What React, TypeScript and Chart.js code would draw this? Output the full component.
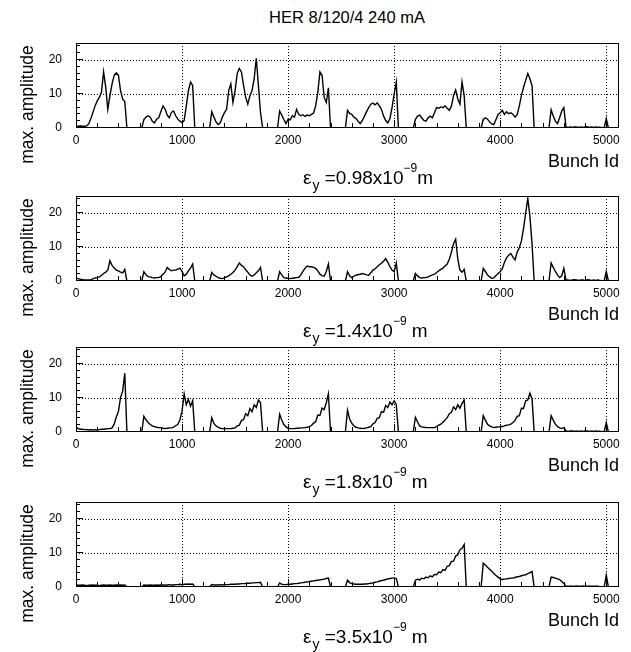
import React, { useEffect, useRef } from "react";
import { Chart, registerables } from "chart.js";

Chart.register(...registerables);

const FONT = '"Liberation Sans", Arial, Helvetica, sans-serif';

// ---------------- data ----------------
const bunchIds = Array.from({ length: 257 }, (_, i) => i * 20); // 0 .. 5120, step 20

const xTickValues = [0, 1000, 2000, 3000, 4000, 5000];
const xMinorTicks = [0, 200, 400, 600, 800, 1000, 1200, 1400, 1600, 1800, 2000, 2200, 2400, 2600, 2800, 3000, 3200, 3400, 3600, 3800, 4000, 4200, 4400, 4600, 4800, 5000];
const yTickValues = [0, 10, 20];
const yMinorTicks = [0, 2, 4, 6, 8, 10, 12, 14, 16, 18, 20, 22, 24];

const plotTitle = "HER 8/120/4 240 mA";
const xTitle = "Bunch Id";
const yTitle = "max. amplitude";
const emittances = ["0.98", "1.4", "1.8", "3.5"];
const unitGap = ["", " ", " ", " "];

// eps_y = 0.98e-9 m
const amp098 = [
  0.6, 0.5, 0.6, 0.5, 0.5, 0.6, 1.2, 2.8, 4.6, 6.5, 8.0, 9.0, 10.5, 16.5, 12.0, 5.5, 9.5, 13.0, 15.5, 16.2, 15.5, 11.0, 8.5, 7.8,
  0, 0, 0, 0, 0, 0, 0, 0,
  2.5, 3.2, 3.6, 3.2, 2.0, 1.5, 2.6, 3.0, 4.8, 6.5, 5.6, 3.8, 3.0, 4.6, 5.0, 3.6, 2.6, 2.0, 1.6, 2.2, 6.5, 11.0, 13.5, 12.5,
  0, 0, 0, 0, 0, 0, 0, 0,
  4.8, 3.2, 1.8, 1.0, 1.5, 3.2, 4.5, 5.5, 11.0, 13.0, 7.5, 11.0, 16.0, 17.5, 16.5, 12.5, 9.0, 7.0, 9.5, 11.0, 14.5, 20.5, 12.5, 4.5,
  0, 0, 0, 0, 0, 0, 0, 0,
  5.0, 3.8, 2.5, 1.3, 2.6, 2.4, 3.6, 3.2, 5.5, 4.0, 3.6, 3.9, 3.4, 3.8, 3.6, 4.0, 4.4, 6.5, 10.5, 16.5, 15.5, 9.0, 7.5, 11.8,
  0, 0, 0, 0, 0, 0, 0, 0,
  5.2, 4.3, 4.0, 3.2, 2.8, 2.0, 1.3, 2.2, 3.5, 4.8, 6.0, 7.0, 7.3, 6.8, 7.4, 6.5, 5.5, 3.5, 2.2, 1.5, 2.8, 6.0, 10.0, 13.5,
  0, 0, 0, 0, 0, 0, 0, 0,
  2.5, 3.5, 3.8, 3.0, 2.2, 2.0, 3.0, 3.5, 3.0, 4.5, 6.0, 5.8, 6.2, 6.0, 6.5, 5.8, 5.2, 6.5, 9.5, 11.2, 8.5, 7.0, 13.5, 9.5,
  0, 0, 0, 0, 0, 0, 0, 0,
  2.5, 3.0, 2.6, 1.8, 1.2, 1.0, 2.5, 4.0, 4.5, 5.2, 4.0, 4.8, 4.2, 4.5, 4.0, 3.2, 4.0, 6.5, 9.5, 12.0, 14.0, 16.0, 14.5, 12.5,
  0, 0, 0, 0, 0, 0, 0, 0,
  5.4, 3.5, 2.0, 1.3, 3.0, 5.0, 6.0,
  0.3, 0.2, 0.3, 0.2, 0.3, 0.3, 0.2, 0.3, 0.2, 0.3, 0.4, 0.2, 0.3, 0.2, 0.3, 0.2, 0.2, 0.1, 0,
  2.8,
  0, 0, 0, 0, 0, 0,
];

// eps_y = 1.4e-9 m
const amp14 = [
  0.8, 0.7, 0.5, 0.4, 0.3, 0.3, 0.3, 0.4, 0.6, 0.9, 1.0, 1.2, 1.6, 2.2, 2.6, 3.2, 6.0, 4.6, 3.8, 3.2, 3.0, 2.6, 2.4, 3.4,
  0, 0, 0, 0, 0, 0, 0, 0,
  2.7, 1.8, 1.3, 1.2, 1.0, 0.9, 1.0, 1.0, 1.3, 2.0, 2.6, 4.0, 3.4, 3.0, 3.2, 3.2, 3.5, 3.8, 2.8, 1.5, 2.0, 3.0, 3.8, 5.0,
  0, 0, 0, 0, 0, 0, 0, 0,
  2.5, 1.8, 1.4, 1.0, 0.8, 0.7, 0.9, 1.2, 1.5, 2.0, 2.5, 3.2, 4.2, 5.3, 4.6, 4.2, 3.3, 2.6, 1.8, 1.4, 1.8, 2.4, 3.0, 4.0,
  0, 0, 0, 0, 0, 0, 0, 0,
  2.7, 1.8, 1.0, 0.9, 0.8, 0.7, 0.8, 0.9, 1.0, 1.1, 1.8, 2.8, 3.8, 4.4, 4.2, 4.2, 4.0, 3.7, 3.0, 2.0, 1.6, 1.4, 2.8, 5.0,
  0, 0, 0, 0, 0, 0, 0, 0,
  2.7, 1.5, 1.0, 1.4, 1.7, 1.9, 2.0, 2.2, 2.0, 1.8, 1.7, 2.4, 3.2, 3.6, 4.2, 4.8, 5.2, 5.8, 6.6, 5.5, 4.2, 3.2, 2.7, 5.3,
  0, 0, 0, 0, 0, 0, 0, 0,
  2.2, 1.5, 1.0, 0.9, 1.0, 1.0, 1.2, 1.5, 1.8, 2.0, 2.5, 3.0, 3.4, 3.8, 4.4, 5.0, 6.4, 8.5, 11.0, 12.3, 6.5, 3.2, 2.6, 3.4,
  0, 0, 0, 0, 0, 0, 0, 0,
  3.7, 2.8, 1.8, 1.2, 0.8, 0.9, 1.6, 2.2, 2.8, 3.6, 5.5, 6.8, 7.6, 8.1, 7.0, 6.2, 8.5, 9.8, 11.8, 15.5, 20.0, 24.3, 19.0, 11.0,
  0, 0, 0, 0, 0, 0, 0, 0,
  5.3, 4.0, 2.8, 1.8, 1.0, 1.5, 3.7,
  0.3, 0.3, 0.2, 0.3, 0.4, 0.3, 0.2, 0.3, 0.3, 0.2, 0.4, 0.3, 0.2, 0.3, 0.2, 0.3, 0.2, 0.1, 0,
  2.8,
  0, 0, 0, 0, 0, 0,
];

// eps_y = 1.8e-9 m
const amp18 = [
  1.5, 1.0, 0.8, 0.8, 0.7, 0.7, 0.6, 0.7, 0.6, 0.7, 0.6, 0.7, 0.8, 0.8, 0.9, 1.0, 1.0, 1.2, 2.3, 4.4, 6.0, 10.2, 12.0, 17.3,
  0, 0, 0, 0, 0, 0, 0, 0,
  4.6, 3.6, 2.8, 2.2, 1.8, 1.6, 1.4, 1.3, 1.2, 1.1, 1.0, 1.1, 1.2, 1.2, 1.4, 1.9, 2.2, 3.6, 6.2, 11.2, 8.0, 9.6, 7.6, 9.2,
  0, 0, 0, 0, 0, 0, 0, 0,
  4.2, 2.5, 1.8, 1.4, 1.1, 1.0, 1.0, 1.0, 1.0, 1.0, 1.1, 1.2, 1.8, 2.0, 3.4, 3.6, 5.4, 4.8, 6.9, 6.0, 8.0, 7.2, 9.4, 8.6,
  0, 0, 0, 0, 0, 0, 0, 0,
  5.2, 3.5, 2.2, 1.5, 1.1, 1.0, 1.0, 1.0, 1.1, 1.1, 1.2, 1.2, 1.3, 1.4, 1.6, 1.9, 2.6, 3.0, 5.0, 4.9, 7.0, 6.6, 8.6, 11.2,
  0, 0, 0, 0, 0, 0, 0, 0,
  6.4, 3.8, 2.6, 1.8, 1.4, 1.2, 1.1, 1.0, 1.1, 1.2, 1.4, 1.6, 2.4, 2.8, 4.0, 4.2, 6.0, 5.8, 7.8, 7.2, 8.8, 8.0, 9.2, 8.0,
  0, 0, 0, 0, 0, 0, 0, 0,
  4.3, 3.0, 1.8, 1.5, 1.4, 1.3, 1.3, 1.3, 1.3, 1.3, 1.6, 2.0, 2.3, 2.9, 3.5, 4.2, 5.4, 5.8, 7.4, 6.6, 8.0, 7.0, 8.4, 9.4,
  0, 0, 0, 0, 0, 0, 0, 0,
  4.8, 3.5, 2.3, 1.8, 1.5, 1.3, 1.4, 1.5, 1.5, 1.6, 1.8, 2.0, 2.1, 2.3, 2.8, 3.4, 4.6, 4.8, 7.0, 6.9, 9.2, 9.4, 11.4, 9.8,
  0, 0, 0, 0, 0, 0, 0, 0,
  4.8, 3.5, 2.3, 1.6, 1.2, 1.0, 1.3,
  0.3, 0.2, 0.3, 0.3, 0.2, 0.3, 0.2, 0.3, 0.2, 0.3, 0.3, 0.2, 0.3, 0.2, 0.3, 0.2, 0.2, 0.1, 0,
  2.8,
  0, 0, 0, 0, 0, 0,
];

// eps_y = 3.5e-9 m
const amp35 = [
  0.6, 0.5, 0.5, 0.6, 0.5, 0.4, 0.5, 0.5, 0.6, 0.5, 0.5, 0.4, 0.5, 0.6, 0.5, 0.5, 0.6, 0.5, 0.5, 0.6, 0.5, 0.6, 0.5, 0.6,
  0, 0, 0, 0, 0, 0, 0, 0,
  0.6, 0.5, 0.5, 0.6, 0.5, 0.5, 0.6, 0.5, 0.6, 0.6, 0.5, 0.6, 0.7, 0.6, 0.6, 0.7, 0.7, 0.8, 0.7, 0.8, 0.8, 0.9, 0.8, 0.9,
  0, 0, 0, 0, 0, 0, 0, 0,
  0.7, 0.6, 0.6, 0.6, 0.7, 0.6, 0.7, 0.7, 0.7, 0.8, 0.8, 0.8, 0.9, 0.9, 1.0, 1.0, 1.0, 1.1, 1.1, 1.2, 1.2, 1.3, 1.3, 1.4,
  0, 0, 0, 0, 0, 0, 0, 0,
  1.2, 0.8, 0.7, 0.7, 0.8, 0.8, 0.9, 1.0, 1.0, 1.1, 1.2, 1.3, 1.4, 1.5, 1.6, 1.7, 1.8, 1.9, 2.0, 2.1, 2.2, 2.3, 2.5, 2.6,
  0, 0, 0, 0, 0, 0, 0, 0,
  2.0, 1.3, 1.0, 0.9, 0.8, 0.8, 0.8, 0.8, 0.9, 0.9, 1.0, 1.1, 1.2, 1.4, 1.5, 1.7, 1.9, 2.0, 2.2, 2.4, 2.5, 2.6, 2.6, 2.5,
  0, 0, 0, 0, 0, 0, 0, 0,
  2.0, 2.3, 2.1, 2.6, 2.4, 2.9, 2.7, 3.3, 3.0, 3.7, 3.6, 4.4, 4.2, 5.1, 4.9, 6.1, 6.3, 7.5, 7.6, 9.1, 9.5, 11.0, 11.4, 12.5,
  0, 0, 0, 0, 0, 0, 0, 0,
  7.0, 6.5, 5.8, 5.2, 4.6, 4.0, 3.4, 2.9, 2.4, 2.2, 2.3, 2.4, 2.5, 2.6, 2.6, 2.8, 3.0, 3.1, 3.3, 3.5, 3.6, 3.9, 4.2, 4.6,
  0, 0, 0, 0, 0, 0, 0, 0,
  2.9, 2.8, 2.6, 2.4, 2.2, 1.6, 1.0,
  0.2, 0.2, 0.3, 0.2, 0.2, 0.3, 0.2, 0.2, 0.3, 0.2, 0.2, 0.3, 0.2, 0.2, 0.2, 0.2, 0.1, 0.1, 0,
  3.5,
  0, 0, 0, 0, 0, 0,
];

const panelSeries = [amp098, amp14, amp18, amp35];

// ---------------- layout ----------------
const FRAME_TOPS = [43, 196, 347, 502];
const PLOT_H = 85;
const PAD_TOP = 30;
const CANVAS_H = 175;

const rootFramePlugin = {
  id: "rootFrame",
  afterDraw(chart: any, _args: any, opts: any) {
    const { ctx, chartArea: a } = chart;
    const xs = chart.scales.x;
    const ys = chart.scales.y;
    ctx.save();
    ctx.strokeStyle = "#000";
    ctx.lineWidth = 1;
    ctx.setLineDash([]);
    ctx.strokeRect(a.left + 0.5, a.top + 0.5, a.right - a.left - 1, a.bottom - a.top - 1);
    ctx.beginPath();
    for (const v of yMinorTicks) {
      const py = Math.round(ys.getPixelForValue(v)) - 0.5;
      const len = v % 10 === 0 ? 7 : 4;
      ctx.moveTo(a.left, py);
      ctx.lineTo(a.left + len, py);
    }
    for (const v of xMinorTicks) {
      const px = Math.round(xs.getPixelForValue(v)) + 0.5;
      const len = v % 1000 === 0 ? 8 : 5;
      ctx.moveTo(px, a.bottom);
      ctx.lineTo(px, a.bottom - len);
    }
    ctx.stroke();
    ctx.fillStyle = "#000";
    ctx.font = `17.5px ${FONT}`;
    ctx.translate(32.5, (a.top + a.bottom) / 2 + 19);
    ctx.rotate(-Math.PI / 2);
    ctx.textAlign = "center";
    ctx.textBaseline = "alphabetic";
    ctx.fillText(opts.yTitle || "", 0, 0);
    ctx.restore();
  },
};

function Panel({ values, frameTop }: { values: number[]; frameTop: number }) {
  const ref = useRef<HTMLCanvasElement>(null);
  useEffect(() => {
    const chart = new Chart(ref.current as HTMLCanvasElement, {
      type: "line",
      data: {
        datasets: [
          {
            data: bunchIds.map((x, i) => ({ x, y: values[i] })),
            borderColor: "#000",
            borderWidth: 1.4,
            pointRadius: 0,
            tension: 0,
            fill: false,
          },
        ],
      },
      options: {
        animation: false,
        responsive: false,
        events: [],
        layout: { padding: { top: PAD_TOP, right: 12, left: 0, bottom: 0 } },
        plugins: {
          legend: { display: false },
          tooltip: { enabled: false },
          rootFrame: { yTitle },
        } as any,
        scales: {
          x: {
            type: "linear",
            min: 0,
            max: 5120,
            afterBuildTicks: (s: any) => {
              s.ticks = xTickValues.map((v) => ({ value: v }));
            },
            afterFit: (s: any) => {
              s.height = CANVAS_H - PAD_TOP - PLOT_H;
            },
            ticks: {
              padding: 5,
              maxRotation: 0,
              autoSkip: false,
              color: "#000",
              font: { family: FONT, size: 12 },
              callback: (v: any) => String(v),
            },
            grid: {
              drawTicks: false,
              lineWidth: 1,
              color: (c: any) => (c.tick && c.tick.value > 0 ? "#000" : "rgba(0,0,0,0)"),
            },
            border: { display: false, dash: [1, 2] },
            title: {
              display: true,
              text: xTitle,
              align: "end",
              color: "#000",
              font: { family: FONT, size: 18 },
              padding: { top: 0, bottom: 15 },
            },
          },
          y: {
            min: 0,
            max: 25,
            afterBuildTicks: (s: any) => {
              s.ticks = yTickValues.map((v) => ({ value: v }));
            },
            afterFit: (s: any) => {
              s.width = 76;
            },
            ticks: {
              padding: 14,
              color: "#000",
              font: { family: FONT, size: 12 },
              callback: (v: any) => String(v),
            },
            grid: {
              drawTicks: false,
              lineWidth: 1,
              color: (c: any) => (c.tick && c.tick.value > 0 ? "#000" : "rgba(0,0,0,0)"),
            },
            border: { display: false, dash: [1, 2] },
          },
        },
      } as any,
      plugins: [rootFramePlugin as any],
    });
    return () => chart.destroy();
  }, [values]);
  return (
    <canvas
      ref={ref}
      width={631}
      height={CANVAS_H}
      style={{ position: "absolute", left: 0, top: frameTop - PAD_TOP, width: 631, height: CANVAS_H }}
    />
  );
}

function EpsLabel({ value, gap, baseline }: { value: string; gap: string; baseline: number }) {
  return (
    <div
      style={{
        position: "absolute",
        left: 303,
        top: baseline - 17,
        fontFamily: FONT,
        fontSize: 19,
        lineHeight: "22px",
        whiteSpace: "pre",
        color: "#000",
      }}
    >
      ε
      <span style={{ fontSize: 14, position: "relative", top: 6, lineHeight: 0, marginLeft: 1 }}>y</span>
      {" =" + value + "x10"}
      <span style={{ fontSize: 12, position: "relative", top: -12, lineHeight: 0 }}>−9</span>
      {gap + "m"}
    </div>
  );
}

export default function App() {
  return (
    <div style={{ position: "absolute", left: 0, top: 0, width: 631, height: 652, background: "#fff", overflow: "hidden" }}>
      <div
        style={{
          position: "absolute",
          left: 147,
          top: 7,
          width: 400,
          textAlign: "center",
          fontFamily: FONT,
          fontSize: 16.5,
          lineHeight: "20px",
          color: "#000",
        }}
      >
        {plotTitle}
      </div>
      {panelSeries.map((vals, i) => (
        <Panel key={i} values={vals} frameTop={FRAME_TOPS[i]} />
      ))}
      {emittances.map((e, i) => (
        <EpsLabel key={i} value={e} gap={unitGap[i]} baseline={FRAME_TOPS[i] + PLOT_H + 56} />
      ))}
    </div>
  );
}
